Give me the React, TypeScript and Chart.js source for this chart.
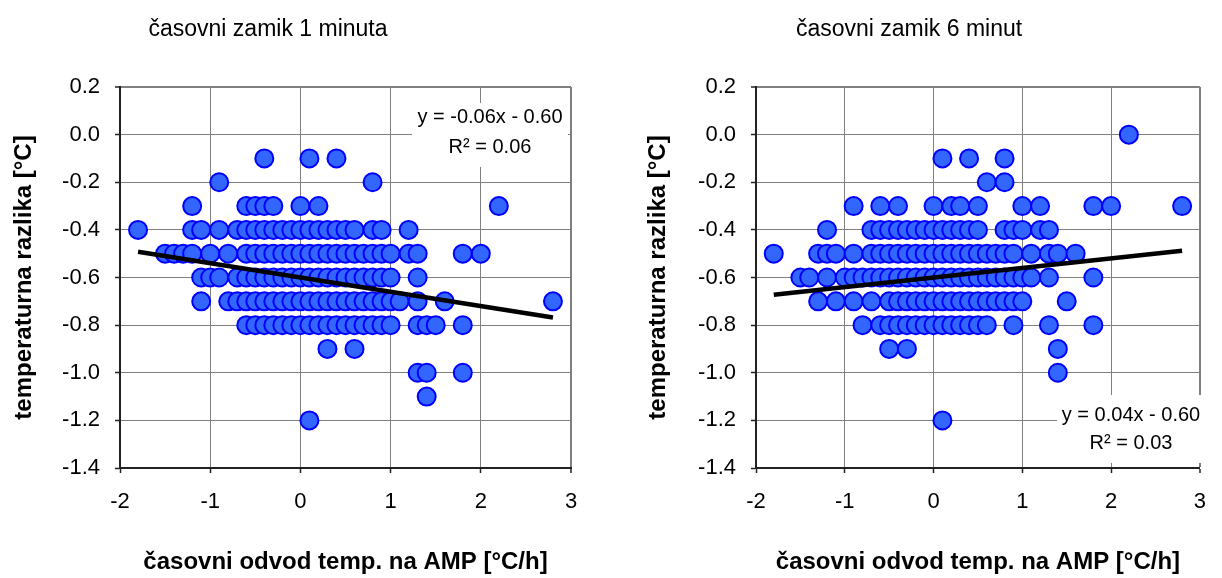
import React, { useEffect, useRef } from "react";
import { Chart, registerables } from "chart.js";

Chart.register(...registerables);

// ---------- data ----------
const xTickValues = [-2, -1, 0, 1, 2, 3];
const yTickValues = [0.2, 0.0, -0.2, -0.4, -0.6, -0.8, -1.0, -1.2, -1.4];

// 1-minute lag: y levels and x values found on each level
const lag1Levels = [-0.1, -0.2, -0.3, -0.4, -0.5, -0.6, -0.7, -0.8, -0.9, -1.0, -1.1, -1.2];
const lag1XAtLevel = [
  [-0.4, 0.1, 0.4],
  [-0.9, 0.8],
  [-1.2, -0.6, -0.5, -0.4, -0.3, 0.0, 0.2, 2.2],
  [-1.8, -1.2, -1.1, -0.9, -0.7, -0.6, -0.5, -0.4, -0.3, -0.2, -0.1, 0.0, 0.1, 0.2, 0.3, 0.4, 0.5, 0.6, 0.8, 0.9, 1.2],
  [-1.5, -1.4, -1.3, -1.2, -1.0, -0.8, -0.6, -0.5, -0.4, -0.3, -0.2, -0.1, 0.0, 0.1, 0.2, 0.3, 0.4, 0.5, 0.6, 0.7, 0.8, 0.9, 1.0, 1.2, 1.3, 1.8, 2.0],
  [-1.1, -1.0, -0.9, -0.7, -0.6, -0.5, -0.4, -0.3, -0.2, -0.1, 0.0, 0.1, 0.2, 0.3, 0.4, 0.5, 0.6, 0.7, 0.8, 0.9, 1.0, 1.3],
  [-1.1, -0.8, -0.7, -0.6, -0.5, -0.4, -0.3, -0.2, -0.1, 0.0, 0.1, 0.2, 0.3, 0.4, 0.5, 0.6, 0.7, 0.8, 0.9, 1.0, 1.1, 1.3, 1.6, 2.8],
  [-0.6, -0.5, -0.4, -0.3, -0.2, -0.1, 0.0, 0.1, 0.2, 0.3, 0.4, 0.5, 0.6, 0.7, 0.8, 0.9, 1.0, 1.3, 1.4, 1.5, 1.8],
  [0.3, 0.6],
  [1.3, 1.4, 1.8],
  [1.4],
  [0.1],
];
const lag1Trend = { slope: -0.06, intercept: -0.6, from: -1.8, to: 2.8 };
const lag1Label = ["y = -0.06x - 0.60", "R² = 0.06"];

// 6-minute lag
const lag6Levels = [0.0, -0.1, -0.2, -0.3, -0.4, -0.5, -0.6, -0.7, -0.8, -0.9, -1.0, -1.2];
const lag6XAtLevel = [
  [2.2],
  [0.1, 0.4, 0.8],
  [0.6, 0.8],
  [-0.9, -0.6, -0.4, 0.0, 0.2, 0.3, 0.5, 1.0, 1.2, 1.8, 2.0, 2.8],
  [-1.2, -0.7, -0.6, -0.5, -0.4, -0.3, -0.2, -0.1, 0.0, 0.1, 0.2, 0.3, 0.4, 0.5, 0.8, 0.9, 1.0, 1.2, 1.3],
  [-1.8, -1.3, -1.2, -1.1, -0.9, -0.7, -0.6, -0.5, -0.4, -0.3, -0.2, -0.1, 0.0, 0.1, 0.2, 0.3, 0.4, 0.5, 0.6, 0.7, 0.8, 0.9, 1.1, 1.3, 1.4, 1.6],
  [-1.5, -1.4, -1.2, -1.0, -0.9, -0.8, -0.7, -0.6, -0.5, -0.4, -0.3, -0.2, -0.1, 0.0, 0.1, 0.2, 0.3, 0.4, 0.5, 0.6, 0.7, 0.8, 0.9, 1.0, 1.1, 1.3, 1.8],
  [-1.3, -1.1, -0.9, -0.7, -0.5, -0.4, -0.3, -0.2, -0.1, 0.0, 0.1, 0.2, 0.3, 0.4, 0.5, 0.6, 0.7, 0.8, 0.9, 1.0, 1.5],
  [-0.8, -0.6, -0.5, -0.4, -0.3, -0.2, -0.1, 0.0, 0.1, 0.2, 0.3, 0.4, 0.5, 0.6, 0.9, 1.3, 1.8],
  [-0.5, -0.3, 1.4],
  [1.4],
  [0.1],
];
const lag6Trend = { slope: 0.04, intercept: -0.6, from: -1.8, to: 2.8 };
const lag6Label = ["y = 0.04x - 0.60", "R² = 0.03"];

const chartTitles = ["časovni zamik 1 minuta", "časovni zamik 6 minut"];
const yAxisTitle = "temperaturna razlika [°C]";
const xAxisTitle = "časovni odvod temp. na AMP [°C/h]";

// ---------- layout / style ----------
const FONT = '"Liberation Sans", Arial, Helvetica, sans-serif';
const W = 611;
const H = 578;

type PanelCfg = {
  left: number;
  title: string;
  levels: number[];
  xs: number[][];
  trend: { slope: number; intercept: number; from: number; to: number };
  label: string[];
  padLeft: number;
  yWidth: number;
  padRight: number;
  titleX: number;
  box: { x: number; y: number; w: number; h: number };
  textX: number;
  lineY: number[];
};

const panels: PanelCfg[] = [
  {
    left: 0,
    title: chartTitles[0],
    levels: lag1Levels,
    xs: lag1XAtLevel,
    trend: lag1Trend,
    label: lag1Label,
    padLeft: 0,
    yWidth: 120,
    padRight: 40,
    titleX: 268,
    box: { x: 412, y: 103, w: 156, h: 64 },
    textX: 490,
    lineY: [117, 147],
  },
  {
    left: 611,
    title: chartTitles[1],
    levels: lag6Levels,
    xs: lag6XAtLevel,
    trend: lag6Trend,
    label: lag6Label,
    padLeft: 23,
    yWidth: 122,
    padRight: 14,
    titleX: 298,
    box: { x: 446, y: 395, w: 148, h: 68 },
    textX: 520,
    lineY: [415, 443],
  },
];

function makeAnnotPlugin(cfg: PanelCfg) {
  return {
    id: "annot",
    afterDatasetsDraw(chart: any) {
      const ctx = chart.ctx as CanvasRenderingContext2D;
      ctx.save();
      ctx.fillStyle = "#000";
      ctx.font = `23px ${FONT}`;
      ctx.textAlign = "center";
      ctx.textBaseline = "alphabetic";
      ctx.fillText(cfg.title, cfg.titleX, 36);
      ctx.fillStyle = "#fff";
      ctx.fillRect(cfg.box.x, cfg.box.y, cfg.box.w, cfg.box.h);
      ctx.fillStyle = "#000";
      ctx.font = `20px ${FONT}`;
      ctx.textBaseline = "middle";
      cfg.label.forEach((t, i) => ctx.fillText(t, cfg.textX, cfg.lineY[i]));
      ctx.restore();
    },
  };
}

function Panel({ cfg }: { cfg: PanelCfg }) {
  const ref = useRef<HTMLCanvasElement>(null);
  useEffect(() => {
    const points: { x: number; y: number }[] = [];
    cfg.levels.forEach((yv, i) => {
      cfg.xs[i].forEach((xv) => points.push({ x: xv, y: yv }));
    });
    const t = cfg.trend;
    const trendPts = [
      { x: t.from, y: t.slope * t.from + t.intercept },
      { x: t.to, y: t.slope * t.to + t.intercept },
    ];
    const xMin = xTickValues[0];
    const xMax = xTickValues[xTickValues.length - 1];
    const yMax = yTickValues[0];
    const yMin = yTickValues[yTickValues.length - 1];

    const chart = new Chart(ref.current as HTMLCanvasElement, {
      type: "scatter",
      data: {
        datasets: [
          {
            label: "trend",
            data: trendPts,
            showLine: true,
            borderColor: "#000",
            borderWidth: 4.5,
            pointRadius: 0,
            order: 0,
          } as any,
          {
            label: "data",
            data: points,
            backgroundColor: "#3366FF",
            borderColor: "#0000FF",
            borderWidth: 2,
            pointRadius: 9,
            order: 1,
          },
        ],
      },
      options: {
        animation: false,
        responsive: false,
        devicePixelRatio: 1,
        events: [],
        layout: { padding: { top: 87, left: cfg.padLeft, right: cfg.padRight, bottom: 0 } },
        plugins: {
          legend: { display: false },
          tooltip: { enabled: false },
          title: { display: false },
        },
        scales: {
          x: {
            type: "linear",
            min: xMin,
            max: xMax,
            afterFit: (s: any) => {
              s.height = 110;
            },
            ticks: {
              stepSize: 1,
              autoSkip: false,
              maxRotation: 0,
              padding: 16,
              color: "#000",
              font: { family: FONT, size: 22 },
              callback: (v: any) => String(v),
            },
            grid: {
              color: "#808080",
              lineWidth: (c: any) => (c.tick && c.tick.value === xMax ? 2 : 1),
              tickLength: 5,
              tickColor: "#222",
              tickWidth: 1.5,
            },
            border: { display: true, color: "#222", width: 2 },
            title: {
              display: true,
              text: xAxisTitle,
              color: "#000",
              font: { family: FONT, size: 24, weight: "bold" },
              padding: { top: 0, bottom: 1 },
            },
          },
          y: {
            type: "linear",
            min: yMin,
            max: yMax,
            afterFit: (s: any) => {
              s.width = cfg.yWidth;
            },
            ticks: {
              stepSize: 0.2,
              autoSkip: false,
              padding: 15,
              color: "#000",
              font: { family: FONT, size: 22 },
              callback: (v: any) => (Math.abs(Number(v)) < 1e-9 ? "0.0" : Number(v).toFixed(1)),
            },
            grid: {
              color: "#808080",
              lineWidth: (c: any) => (c.tick && Math.abs(c.tick.value - yMax) < 1e-9 ? 2 : 1),
              tickLength: 5,
              tickColor: "#222",
              tickWidth: 1.5,
            },
            border: { display: true, color: "#222", width: 2 },
            title: {
              display: true,
              text: yAxisTitle,
              color: "#000",
              font: { family: FONT, size: 24, weight: "bold" },
              padding: { top: 10, bottom: 0 },
            },
          },
        },
      } as any,
      plugins: [makeAnnotPlugin(cfg)],
    });
    return () => chart.destroy();
  }, [cfg]);
  return (
    <canvas
      ref={ref}
      width={W}
      height={H}
      style={{ position: "absolute", left: cfg.left, top: 0, width: W, height: H, display: "block" }}
    />
  );
}

export default function App() {
  return (
    <div style={{ position: "absolute", left: 0, top: 0, width: 1222, height: 578, background: "#fff", overflow: "hidden" }}>
      {panels.map((p, i) => (
        <Panel key={i} cfg={p} />
      ))}
    </div>
  );
}
